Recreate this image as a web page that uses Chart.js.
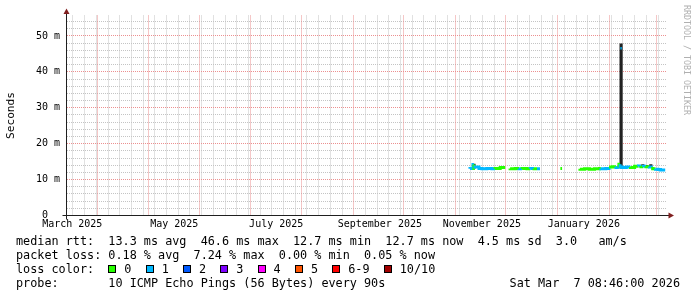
<!DOCTYPE html>
<html>
<head>
<meta charset="utf-8">
<script src="https://cdn.jsdelivr.net/npm/chart.js@4.4.1/dist/chart.umd.min.js"></script>
<style>
  html, body { margin: 0; padding: 0; background: #fff; }
  #wrap { position: relative; width: 697px; height: 297px; overflow: hidden; }
  #chart { position: absolute; left: 0; top: 0; }
  .legend { position: absolute; left: 16px; top: 234px; font: 11.8px/14px "DejaVu Sans Mono", monospace; color: #000; white-space: pre; }
  .box { display: inline-block; width: 8px; height: 8px; box-sizing: border-box; border: 1px solid #000; margin-right: 8px; }
  .stamp { position: absolute; right: 17px; top: 276px; font: 11.8px/14px "DejaVu Sans Mono", monospace; color: #000; white-space: pre; }
  .mark { position: absolute; left: 682px; top: 5px; writing-mode: vertical-rl; font: 8.3px "DejaVu Sans Mono", monospace; color: #b0b0b0; white-space: pre; }
</style>
</head>
<body>
<div id="wrap">
  <canvas id="chart" width="697" height="297" style="width:697px;height:297px"></canvas>
  <div class="mark">RRDTOOL / TOBI OETIKER</div>
  <div class="legend" id="legend"></div>
  <div class="stamp" id="stamp"></div>
</div>
<script>
// x values are days since 1 March 2025
const xMin = 12.46;
const xMax = 371.37;          // Sat Mar 7 2026 08:46
const yMax = 55.7;            // ms

const monthStartDays = [31, 61, 92, 122, 153, 184, 214, 245, 275, 306, 337, 365];
const labelMonthDays = [0, 61, 122, 184, 245, 306];
const xTickLabels = ['March 2025', 'May 2025', 'July 2025', 'September 2025', 'November 2025', 'January 2026'];
const firstMonday = 2;        // Mon Mar 3 2025

// median rtt (ms) and loss class per step, null = no data
const medianDays = [253.5, 255.3, 255.9, 256.5, 258.9, 260.7, 263.6, 266.6, 268.5, 271.6, 274.6, 276.9,
  277.5, 280.6, 282.9, 284.7, 287.6, 289.6, 291.8, 293.6, 295.4, 296.0,
  307.6, 308.6, 309.0,
  319.3, 322, 325, 328, 331, 331.8, 334.8, 337.6, 338.8, 340.8, 342.6, 343.3, 344.5, 347, 349.5,
  352, 354.3, 355.8, 357.2, 358.8, 360.8, 362.8, 364.5, 366, 367.5, 368.8, 370.3];
const medianMs = [13.0, 13.1, 14.2, 13.1, 13.5, 13.1, 13.0, 13.1, 13.0, 13.1, 13.4, null,
  13.1, 13.0, 13.1, 13.0, 13.1, 13.0, 13.1, 13.0, 13.0, null,
  13.1, 13.1, null,
  13.0, 12.9, 13.0, 12.9, 13.0, 13.1, 13.0, 13.1, 13.5, 13.6, 13.4, 14.3, 13.5, 13.4, 13.5,
  13.4, 13.7, 13.8, 13.6, 13.7, 13.6, 13.5, 13.0, 12.9, 12.8, 12.7, 12.7];
const medianLoss = [1, 1, 0, 1, 1, 1, 1, 1, 0, 0, 1, 0,
  0, 0, 1, 0, 0, 1, 0, 1, 1, 0,
  0, 0, 0,
  0, 0, 0, 0, 0, 1, 1, 0, 0, 1, 0, 1, 1, 1, 0,
  0, 1, 0, 1, 0, 1, 0, 1, 1, 1, 1, 1];

// the single high median step at the spike
const peakDays = [343.5, 344.3];
const peakMs = [46.6, 46.6];
const peakLoss = 1;

// smoke (ping spread) columns
const smokeDays = [255.9, 343.9, 356.9, 359.3, 361.7];
const smokeLow = [13.1, 13.2, 13.6, 13.6, 13.5];
const smokeHigh = [14.3, 47.8, 14.2, 14.0, 14.2];

const lossLabels = ['0', '1', '2', '3', '4', '5', '6-9', '10/10'];
const lossColors = ['#26ff00', '#00b8ff', '#0059ff', '#7e00ff', '#ff00fe', '#ff5500', '#ff0000', '#a10000'];

const legendRows = [
  'median rtt:  13.3 ms avg  46.6 ms max  12.7 ms min  12.7 ms now  4.5 ms sd  3.0   am/s',
  'packet loss: 0.18 % avg  7.24 % max  0.00 % min  0.05 % now'
];
const probeText = 'probe:       10 ICMP Echo Pings (56 Bytes) every 90s';
const stampText = 'Sat Mar  7 08:46:00 2026';

const minorGrid = '#c4c4c4';
const majorGrid = '#ec9090';

// --- legend ---
let html = legendRows.join('\n') + '\nloss color:  ';
lossLabels.forEach((l, i) => {
  html += '<span class="box" style="background:' + lossColors[i] + '"></span>' + l + '  ';
});
html += '\n' + probeText;
document.getElementById('legend').innerHTML = html;
document.getElementById('stamp').textContent = stampText;

// --- axes lines and arrows like rrdtool ---
const rrdAxes = {
  id: 'rrdAxes',
  afterDraw(chart) {
    const { ctx, chartArea: a } = chart;
    const x0 = Math.round(a.left) - 0.5;
    const y0 = a.bottom;
    ctx.save();
    ctx.lineWidth = 1;
    ctx.strokeStyle = '#1f1f1f';
    ctx.beginPath();
    ctx.moveTo(x0, y0 + 4);
    ctx.lineTo(x0, a.top - 2);
    ctx.moveTo(x0 - 4, y0);
    ctx.lineTo(a.right + 2, y0);
    ctx.stroke();
    ctx.fillStyle = '#801f1f';
    ctx.beginPath();
    ctx.moveTo(x0 - 3, a.top - 1.5);
    ctx.lineTo(x0 + 3, a.top - 1.5);
    ctx.lineTo(x0, a.top - 7);
    ctx.closePath();
    ctx.fill();
    ctx.beginPath();
    ctx.moveTo(a.right + 1.5, y0 - 3);
    ctx.lineTo(a.right + 1.5, y0 + 3);
    ctx.lineTo(a.right + 7, y0);
    ctx.closePath();
    ctx.fill();
    ctx.restore();
  }
};

const tickFont = { family: 'DejaVu Sans Mono', size: 10 };

// grid-only scale: fixed ticks, one colour, no labels, takes no room
function gridScale(axis, color, values) {
  return {
    type: 'linear',
    axis: axis,
    position: axis === 'x' ? 'bottom' : 'left',
    min: axis === 'x' ? xMin : 0,
    max: axis === 'x' ? xMax : yMax,
    afterBuildTicks: scale => { scale.ticks = values.map(v => ({ value: v })); },
    afterFit: scale => { if (axis === 'x') scale.height = 0; else scale.width = 0; },
    grid: { drawTicks: false, color: color },
    border: { display: false, dash: [1, 1] },
    ticks: { display: false, autoSkip: false }
  };
}

const weekDays = [];
for (let d = firstMonday; d <= xMax; d += 7) {
  if (d >= xMin && !monthStartDays.includes(d)) weekDays.push(d);
}
const minorMs = [];
for (let v = 2; v <= yMax; v += 2) if (v % 10 !== 0) minorMs.push(v);
const majorMs = [0, 10, 20, 30, 40, 50];

new Chart(document.getElementById('chart'), {
  type: 'line',
  data: {
    datasets: [
      {
        type: 'line',
        xAxisID: 'x',
        yAxisID: 'y',
        order: 0,
        data: medianDays.map((d, i) => ({ x: d, y: medianMs[i] })),
        stepped: 'after',
        spanGaps: false,
        borderWidth: 3,
        borderColor: lossColors[0],
        segment: { borderColor: ctx => lossColors[medianLoss[ctx.p0DataIndex]] },
        pointRadius: 0
      },
      {
        type: 'line',
        xAxisID: 'x',
        yAxisID: 'y',
        order: 0,
        data: peakDays.map((d, i) => ({ x: d, y: peakMs[i] })),
        borderWidth: 2.5,
        borderColor: lossColors[peakLoss],
        pointRadius: 0
      },
      {
        type: 'bar',
        xAxisID: 'x',
        yAxisID: 'y',
        order: 1,
        data: smokeDays.map((d, i) => ({ x: d, y: [smokeLow[i], smokeHigh[i]] })),
        backgroundColor: '#222222',
        barThickness: 2.5,
        grouped: false
      }
    ]
  },
  options: {
    responsive: false,
    animation: false,
    layout: { padding: { left: 0, right: 30, top: 15.5, bottom: 61.5 } },
    plugins: { legend: { display: false }, tooltip: { enabled: false } },
    scales: {
      xWeek: gridScale('x', minorGrid, weekDays),
      yMinor: gridScale('y', minorGrid, minorMs),
      xMonth: gridScale('x', majorGrid, monthStartDays),
      x: {
        type: 'linear',
        min: xMin,
        max: xMax,
        offset: false,
        afterBuildTicks: scale => {
          scale.ticks = labelMonthDays.map(d => ({ value: d + 15.6 }));
        },
        afterFit: scale => { scale.height = 20; },
        grid: { display: false, drawTicks: false },
        border: { display: false },
        ticks: {
          autoSkip: false,
          maxRotation: 0,
          minRotation: 0,
          padding: 3,
          color: '#000',
          font: tickFont,
          callback: (v, i) => xTickLabels[i]
        }
      },
      y: {
        type: 'linear',
        min: 0,
        max: yMax,
        afterBuildTicks: scale => { scale.ticks = majorMs.map(v => ({ value: v })); },
        afterFit: scale => { scale.width = 67; },
        grid: { drawTicks: false, color: majorGrid },
        border: { display: false, dash: [1, 1] },
        title: {
          display: true,
          text: 'Seconds',
          color: '#000',
          font: { family: 'DejaVu Sans Mono', size: 11.2 },
          padding: { top: 4, bottom: 0 }
        },
        ticks: {
          autoSkip: false,
          padding: 7,
          color: '#000',
          font: tickFont,
          callback: v => v === 0 ? '0  ' : v + ' m'
        }
      }
    }
  },
  plugins: [rrdAxes]
});
</script>
</body>
</html>
